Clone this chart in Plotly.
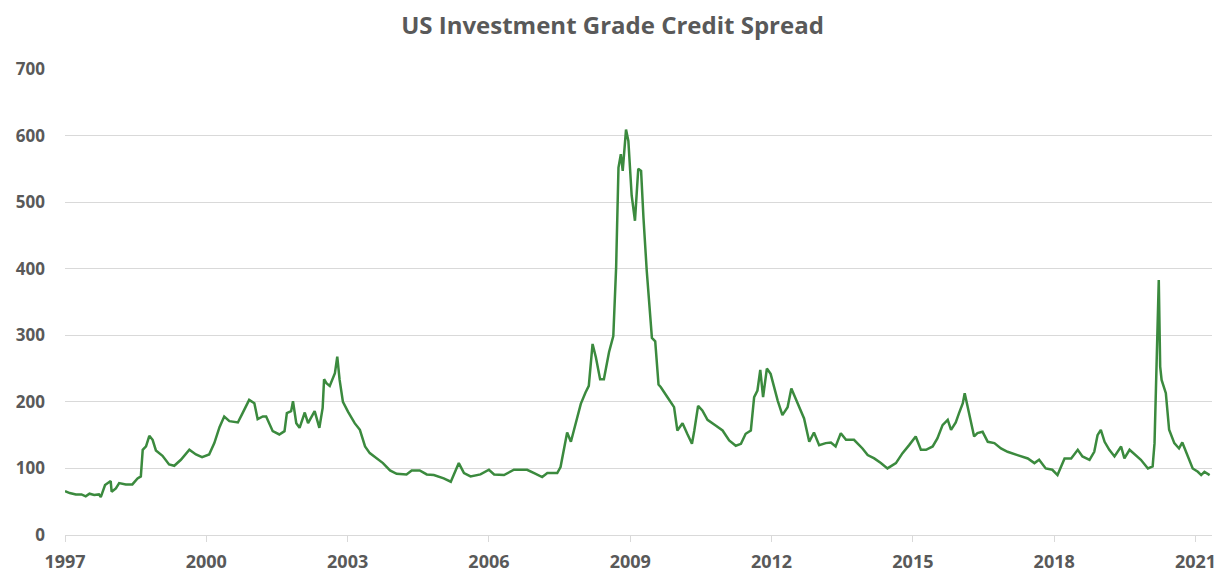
import plotly.graph_objects as go

# Decimal-year positions and spread values (bp)
years = [
    1997.00, 1997.10, 1997.23, 1997.35, 1997.44, 1997.52, 1997.62, 1997.72, 1997.76, 1997.85,
    1997.97, 1997.99, 1998.08, 1998.15, 1998.29, 1998.43, 1998.54, 1998.61, 1998.65, 1998.72,
    1998.79, 1998.86, 1998.93, 1999.07, 1999.21, 1999.32, 1999.46, 1999.64, 1999.78, 1999.91,
    2000.06, 2000.17, 2000.28, 2000.38, 2000.49, 2000.67, 2000.77, 2000.91, 2001.02, 2001.09,
    2001.20, 2001.27, 2001.41, 2001.55, 2001.66, 2001.71, 2001.80, 2001.84, 2001.91, 2001.98,
    2002.09, 2002.16, 2002.30, 2002.40, 2002.47, 2002.50, 2002.55, 2002.62, 2002.73, 2002.78,
    2002.83, 2002.90, 2003.01, 2003.15, 2003.26, 2003.37, 2003.47, 2003.61, 2003.75, 2003.90,
    2004.04, 2004.25, 2004.36, 2004.53, 2004.68, 2004.83, 2005.04, 2005.19, 2005.29, 2005.36,
    2005.47, 2005.61, 2005.82, 2006.00, 2006.11, 2006.32, 2006.53, 2006.81, 2006.96, 2007.13,
    2007.24, 2007.45, 2007.52, 2007.59, 2007.66, 2007.74, 2007.84, 2007.95, 2008.05, 2008.12,
    2008.20, 2008.27, 2008.36, 2008.44, 2008.55, 2008.64, 2008.70, 2008.75, 2008.80, 2008.84,
    2008.91, 2008.96, 2009.03, 2009.10, 2009.17, 2009.23, 2009.28, 2009.35, 2009.46, 2009.53,
    2009.60, 2009.65, 2009.79, 2009.93, 2010.00, 2010.11, 2010.21, 2010.31, 2010.36, 2010.44,
    2010.53, 2010.64, 2010.82, 2010.96, 2011.10, 2011.24, 2011.35, 2011.45, 2011.56, 2011.63,
    2011.70, 2011.76, 2011.82, 2011.90, 2011.98, 2012.13, 2012.23, 2012.34, 2012.42, 2012.55,
    2012.69, 2012.80, 2012.90, 2013.01, 2013.15, 2013.26, 2013.36, 2013.47, 2013.58, 2013.75,
    2013.93, 2014.04, 2014.18, 2014.32, 2014.46, 2014.64, 2014.78, 2014.92, 2015.06, 2015.17,
    2015.28, 2015.42, 2015.52, 2015.63, 2015.74, 2015.81, 2015.91, 2015.98, 2016.06, 2016.10,
    2016.16, 2016.23, 2016.30, 2016.37, 2016.48, 2016.59, 2016.73, 2016.87, 2017.01, 2017.22,
    2017.44, 2017.58, 2017.68, 2017.82, 2017.96, 2018.07, 2018.22, 2018.36, 2018.50, 2018.60,
    2018.75, 2018.85, 2018.92, 2018.99, 2019.07, 2019.17, 2019.28, 2019.42, 2019.49, 2019.60,
    2019.74, 2019.84, 2019.99, 2020.09, 2020.13, 2020.18, 2020.22, 2020.25, 2020.28, 2020.37,
    2020.44, 2020.55, 2020.65, 2020.72, 2020.83, 2020.94, 2021.05, 2021.12, 2021.19, 2021.30,
]

spread = [
    66, 63, 61, 61, 58, 62, 60, 61, 57, 75,
    81, 65, 70, 78, 76, 76, 85, 88, 128, 133,
    149, 143, 127, 119, 106, 104, 113, 128, 121, 117,
    121, 138, 162, 178, 171, 169, 183, 203, 198, 174,
    178, 178, 156, 151, 156, 183, 186, 201, 168, 161,
    184, 168, 186, 161, 191, 234, 228, 224, 243, 268,
    233, 200, 185, 168, 158, 133, 123, 115, 108, 97,
    92, 91, 97, 97, 91, 90, 85, 80, 97, 108,
    93, 88, 91, 98, 91, 90, 98, 98, 93, 87,
    93, 93, 102, 127, 154, 140, 167, 197, 214, 224,
    287, 267, 234, 234, 275, 299, 402, 552, 572, 547,
    609, 592, 510, 472, 550, 547, 477, 397, 296, 291,
    226, 222, 207, 192, 157, 168, 152, 137, 157, 194,
    187, 173, 164, 157, 142, 134, 137, 152, 157, 207,
    217, 248, 207, 250, 242, 202, 180, 192, 220, 197,
    175, 140, 154, 135, 138, 139, 133, 153, 143, 143,
    130, 120, 115, 108, 100, 108, 123, 135, 148, 128,
    128, 133, 145, 165, 173, 158, 169, 183, 198, 213,
    193, 168, 148, 153, 155, 140, 138, 130, 125, 120,
    115, 108, 113, 100, 98, 90, 115, 115, 128, 118,
    113, 125, 150, 158, 140, 128, 118, 133, 115, 128,
    120, 113, 100, 103, 138, 278, 383, 253, 233, 213,
    158, 138, 130, 139, 118, 100, 95, 90, 95, 90,
]

x_ticks = [1997, 2000, 2003, 2006, 2009, 2012, 2015, 2018, 2021]
y_ticks = [0, 100, 200, 300, 400, 500, 600, 700]

label_color = "#595959"

fig = go.Figure()
fig.add_trace(go.Scatter(
    x=years, y=spread, mode="lines",
    line=dict(color="#3b8a3e", width=2.5),
    showlegend=False,
))

fig.update_layout(
    width=1225, height=573, autosize=False,
    margin=dict(l=65, r=13, t=69, b=38, autoexpand=False),
    paper_bgcolor="white", plot_bgcolor="white",
    title=dict(
        text="<b>US Investment Grade Credit Spread</b>",
        x=0.5, xanchor="center", y=0.97, yanchor="top",
        font=dict(family="Open Sans", size=24, color=label_color),
    ),
    font=dict(family="Open Sans", color=label_color),
)

fig.update_xaxes(
    range=[1997, 2021.35],
    tickvals=x_ticks, ticktext=[f"<b>{t}</b>" for t in x_ticks],
    tickfont=dict(size=18, color=label_color),
    showgrid=False, zeroline=False, automargin=False,
    showline=True, linecolor="#d9d9d9", linewidth=1,
    ticks="outside", ticklen=6, tickcolor="#d9d9d9",
    ticklabelstandoff=4,
)
fig.update_yaxes(
    range=[0, 700],
    tickvals=y_ticks, ticktext=[f"<b>{t}</b>" for t in y_ticks],
    tickfont=dict(size=17, color=label_color),
    showgrid=True, gridcolor="#d9d9d9", gridwidth=1,
    zeroline=False, showline=False, automargin=False,
    ticks="", ticklabelstandoff=19,
)

fig.write_html(
    "out.html",
    config={"displayModeBar": False},
    post_script="document.body.style.margin='0';document.body.style.overflow='hidden';",
)
